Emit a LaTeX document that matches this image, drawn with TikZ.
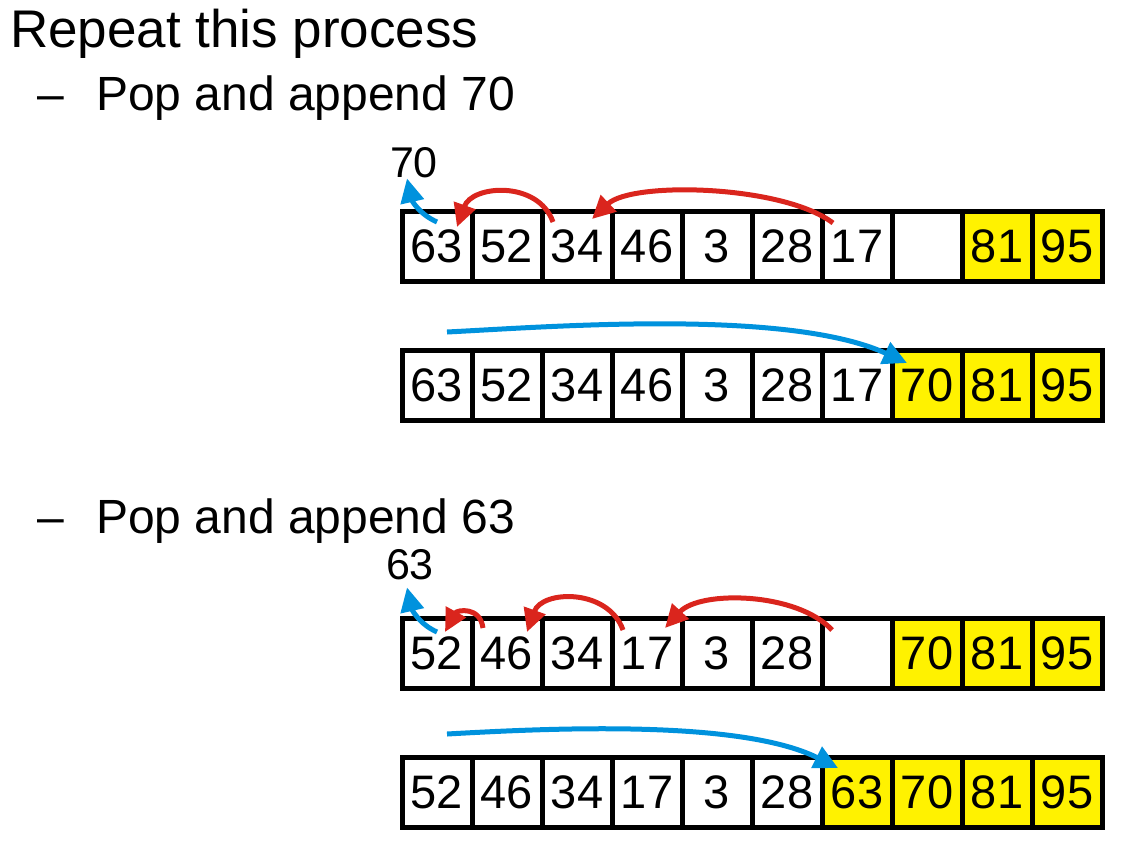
\documentclass[tikz,border=0pt]{standalone}
\usepackage{fontspec}
\setmainfont{Liberation Sans}
\usepackage{tikz}
\usetikzlibrary{positioning,arrows.meta}

\definecolor{arcred}{RGB}{218,37,29}
\definecolor{arcblue}{RGB}{0,146,221}
\newcommand\headfont{\fontsize{53}{63}\selectfont}
\newcommand\itemfont{\fontsize{48}{57}\selectfont}
\newcommand\cellfont{\fontsize{47}{56}\selectfont}
\newcommand\popfont{\fontsize{43}{52}\selectfont}

\begin{document}
\begin{tikzpicture}
[x=1pt,y=-1pt,
 every node/.style={inner sep=0pt,outer sep=0pt},
 head/.style={anchor=base west,font=\headfont},
 item/.style={anchor=base west,font=\itemfont},
 cell/.style={rectangle,draw=black,line width=5pt,minimum size=70pt,font=\cellfont},
 done/.style={cell,fill=yellow},
 popped/.style={anchor=base west,font=\popfont},
 redarc/.style={draw=arcred,line width=5pt,-{Triangle[length=23pt,width=22pt]}},
 bluearc/.style={draw=arcblue,line width=5pt,-{Triangle[length=24pt,width=23pt]}}]
\useasboundingbox (0,0) rectangle (1132,846);
\node[head] (title) at (10,47)  {Repeat this process};
\node[item] (dashA) at (37,110) {--};
\node[item] (popA)  at (96,110) {Pop and append 70};
\node[item] (dashB) at (37,533) {--};
\node[item] (popB)  at (96,533) {Pop and append 63};
% first step
\node[popped] (l70) at (390,177) {70};
\node[cell] (a0) at (437,246)                {63};
\node[cell] (a1) [on grid,right=70pt of a0]  {52};
\node[cell] (a2) [on grid,right=70pt of a1]  {34};
\node[cell] (a3) [on grid,right=70pt of a2]  {46};
\node[cell] (a4) [on grid,right=70pt of a3]  {3};
\node[cell] (a5) [on grid,right=70pt of a4]  {28};
\node[cell] (a6) [on grid,right=70pt of a5]  {17};
\node[cell] (a7) [on grid,right=70pt of a6]  {};
\node[done] (a8) [on grid,right=70pt of a7]  {81};
\node[done] (a9) [on grid,right=70pt of a8]  {95};
\node[cell] (b0) [on grid,below=139pt of a0] {63};
\node[cell] (b1) [on grid,right=70pt of b0]  {52};
\node[cell] (b2) [on grid,right=70pt of b1]  {34};
\node[cell] (b3) [on grid,right=70pt of b2]  {46};
\node[cell] (b4) [on grid,right=70pt of b3]  {3};
\node[cell] (b5) [on grid,right=70pt of b4]  {28};
\node[cell] (b6) [on grid,right=70pt of b5]  {17};
\node[done] (b7) [on grid,right=70pt of b6]  {70};
\node[done] (b8) [on grid,right=70pt of b7]  {81};
\node[done] (b9) [on grid,right=70pt of b8]  {95};
\path[bluearc] ([yshift=-11pt]a0.north) .. controls +(-18,-8) and +(5,22) .. ([xshift=17pt,yshift=-1pt]l70.south west);
\path[redarc]  ([xshift=11pt,yshift=-11pt]a2.north west) .. controls +(-15,-42) and +(15,-42) .. ([xshift=-15pt,yshift=-16pt]a0.north east);
\path[redarc]  ([xshift=11pt,yshift=-12pt]a6.north west) .. controls +(-50,-38) and +(40,-38) .. ([xshift=-20pt,yshift=-8pt]a2.north east);
\path[bluearc] ([xshift=10pt,yshift=18pt]b0.north) .. controls +(100,-5) and +(-120,-55) .. ([xshift=15pt,yshift=-13pt]b7.north west);
% second step
\node[popped] (l63) at (386,579) {63};
\node[cell] (c0) [on grid,below=268pt of b0] {52};
\node[cell] (c1) [on grid,right=70pt of c0]  {46};
\node[cell] (c2) [on grid,right=70pt of c1]  {34};
\node[cell] (c3) [on grid,right=70pt of c2]  {17};
\node[cell] (c4) [on grid,right=70pt of c3]  {3};
\node[cell] (c5) [on grid,right=70pt of c4]  {28};
\node[cell] (c6) [on grid,right=70pt of c5]  {};
\node[done] (c7) [on grid,right=70pt of c6]  {70};
\node[done] (c8) [on grid,right=70pt of c7]  {81};
\node[done] (c9) [on grid,right=70pt of c8]  {95};
\node[cell] (d0) [on grid,below=139pt of c0] {52};
\node[cell] (d1) [on grid,right=70pt of d0]  {46};
\node[cell] (d2) [on grid,right=70pt of d1]  {34};
\node[cell] (d3) [on grid,right=70pt of d2]  {17};
\node[cell] (d4) [on grid,right=70pt of d3]  {3};
\node[cell] (d5) [on grid,right=70pt of d4]  {28};
\node[done] (d6) [on grid,right=70pt of d5]  {63};
\node[done] (d7) [on grid,right=70pt of d6]  {70};
\node[done] (d8) [on grid,right=70pt of d7]  {81};
\node[done] (d9) [on grid,right=70pt of d8]  {95};
\path[bluearc] ([yshift=-14pt]c0.north) .. controls +(-18,-8) and +(5,22) .. ([xshift=21pt,yshift=-8pt]l63.south west);
\path[redarc]  ([xshift=11pt,yshift=-10pt]c1.north west) .. controls +(-3,-22) and +(12,-22) .. ([xshift=-27pt,yshift=-14pt]c0.north east);
\path[redarc]  ([xshift=11pt,yshift=-12pt]c3.north west) .. controls +(-15,-42) and +(15,-42) .. ([xshift=-15pt,yshift=-14pt]c1.north east);
\path[redarc]  ([xshift=10pt,yshift=-12pt]c6.north west) .. controls +(-35,-38) and +(35,-38) .. ([xshift=-17pt,yshift=-10pt]c3.north east);
\path[bluearc] ([xshift=10pt,yshift=23pt]d0.north) .. controls +(90,-5) and +(-100,-50) .. ([xshift=16pt,yshift=-11pt]d6.north west);
\end{tikzpicture}
\end{document}
